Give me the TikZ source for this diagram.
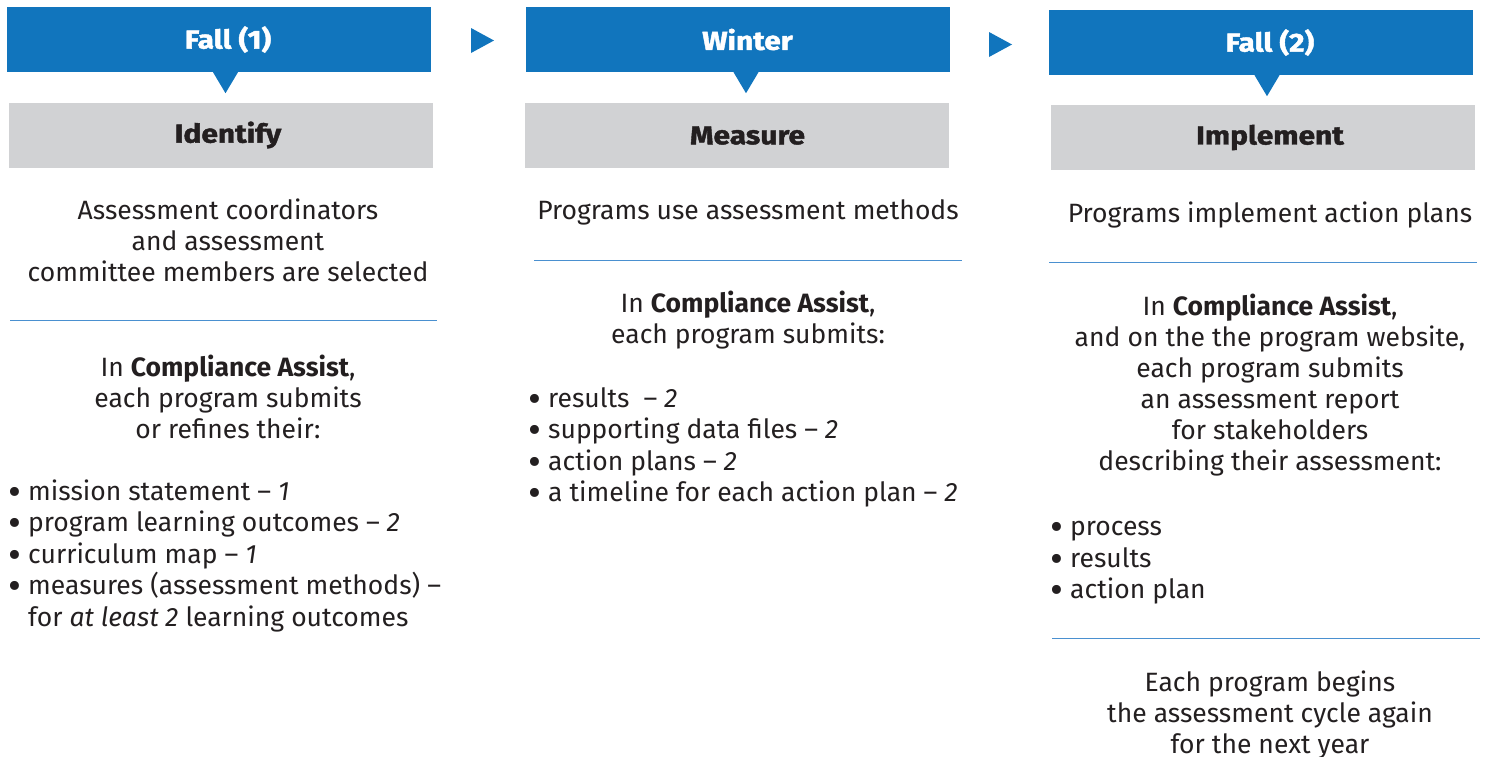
\documentclass[tikz,border=0pt]{standalone}
\usepackage{fontspec}
\setmainfont{Fira Sans}
\newfontfamily\headfont{Fira Sans}[FakeStretch=1.15,BoldFeatures={FakeBold=1.6}]
\definecolor{seasonblue}{HTML}{1175BD}
\definecolor{phasegray}{HTML}{D1D2D4}
\definecolor{ink}{HTML}{231F20}
\definecolor{ruleblue}{HTML}{4A90D0}
\newcommand{\bul}{\makebox[20pt][l]{\smash{\raisebox{-5pt}{\scalebox{1.5}{\textbullet}}}}}
\begin{document}
\begin{tikzpicture}[x=1pt,y=-1pt,
  season/.style={fill=seasonblue,minimum width=424pt,minimum height=65pt,inner sep=0pt},
  phase/.style={fill=phasegray,minimum width=424pt,minimum height=65pt,inner sep=0pt},
  seasontext/.style={inner sep=0pt,text=white,font=\fontsize{26}{28}\selectfont\headfont\bfseries},
  phasetext/.style={inner sep=0pt,text=ink,font=\fontsize{26}{28}\selectfont\headfont\bfseries},
  note/.style={align=center,inner sep=0pt,anchor=north,text=ink,font=\fontsize{26.5}{31}\selectfont},
  items/.style={align=left,inner sep=0pt,anchor=north west,text=ink,font=\fontsize{26.5}{31.5}\selectfont},
  rule/.style={draw=ruleblue,line width=1pt},
  pointer/.style={fill=seasonblue}]
\useasboundingbox (0,0) rectangle (1491,756);

% headers
\node[season] (fallA) at (218.5,39.5) {};
\node[season] (winter) at (738,39.5) {};
\node[season] (fallB) at (1261,42.5) {};
\node[phase] (identify) at (221,135) {};
\node[phase] (measure) at (737,135.5) {};
\node[phase] (implement) at (1263,137.5) {};
\node[seasontext] at ([xshift=9.5pt]fallA) {Fall (1)};
\node[seasontext] at ([xshift=9.5pt]winter) {Winter};
\node[seasontext] at ([xshift=9pt]fallB) {Fall (2)};
\node[phasetext] at ([xshift=7pt]identify) {Identify};
\node[phasetext] at ([xshift=10.5pt]measure) {Measure};
\node[phasetext] at ([xshift=7pt]implement) {Implement};

% pointers down
\foreach \h/\dx in {fallA/7,winter/8,fallB/6}
  \fill[pointer] ([xshift=\dx pt-12.5pt]\h.south) -- ([xshift=\dx pt+12.5pt]\h.south)
    -- ([xshift=\dx pt,yshift=-21pt]\h.south) -- cycle;

% arrows between seasons
\coordinate (gapA) at (471,28);
\coordinate (gapB) at (989,32);
\foreach \g in {gapA,gapB}
  \fill[pointer] (\g) -- ([xshift=23pt,yshift=-12.5pt]\g) -- ([yshift=-25pt]\g) -- cycle;

% column 1
\node[note] (selectA) at (228,199) {Assessment coordinators\\and assessment\\committee members are selected};
\draw[rule] (10,320) -- (437,320);
\node[note] (submitA) at (228,355) {In \textbf{Compliance Assist},\\each program submits\\or refines their:};
\node[items] (listA) at (8,479.5) {\bul mission statement -- \textit{1}\\
  \bul program learning outcomes -- \textit{2}\\
  \bul curriculum map -- \textit{1}\\
  \bul measures (assessment methods) --\\
  \hspace*{20pt}for \textit{at least 2} learning outcomes};

% column 2
\node[note] (useB) at (748,199) {Programs use assessment methods};
\draw[rule] (534,260) -- (962,260);
\node[note] (submitB) at (748,291) {In \textbf{Compliance Assist},\\each program submits:};
\node[items] (listB) at (528,387) {\bul results\ \ -- \textit{2}\\
  \bul supporting data files -- \textit{2}\\
  \bul action plans -- \textit{2}\\
  \bul a timeline for each action plan -- \textit{2}};

% column 3
\node[note] (applyC) at (1270,202) {Programs implement action plans};
\draw[rule] (1049,262) -- (1477,262);
\node[note] (submitC) at (1270,294) {In \textbf{Compliance Assist},\\and on the the program website,\\each program submits\\an assessment report\\for stakeholders\\describing their assessment:};
\node[items] (listC) at (1050,521.5) {\bul process\\ \bul results\\ \bul action plan};
\draw[rule] (1052,638) -- (1480,638);
\node[note] (againC) at (1270,671) {Each program begins\\the assessment cycle again\\for the next year};
\end{tikzpicture}
\end{document}
